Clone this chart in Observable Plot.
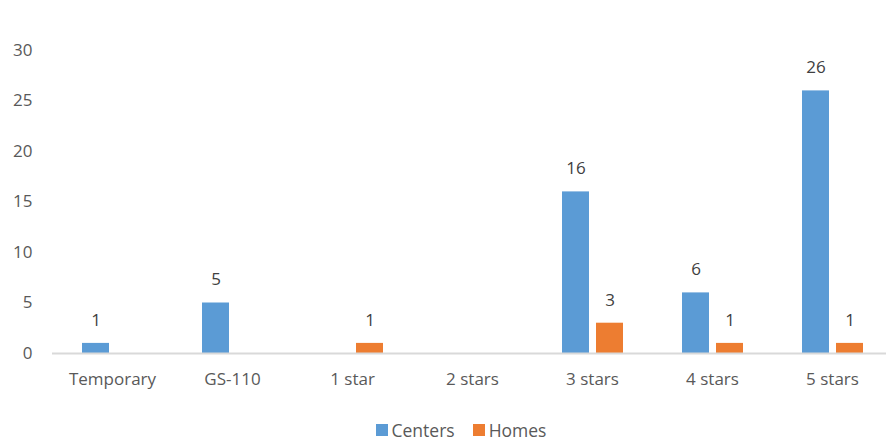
<!DOCTYPE html>
<html>
<head>
<meta charset="utf-8">
<script src="https://cdn.jsdelivr.net/npm/d3@7"></script>
<script src="https://cdn.jsdelivr.net/npm/@observablehq/plot@0.6"></script>
<style>
  body { margin: 0; background: #fff; font-family: "Open Sans", sans-serif; }
  #chart { width: 886px; height: 442px; position: relative; overflow: hidden; }
  #legend { position: absolute; left: 0; top: 418px; width: 886px; display: flex; justify-content: center; gap: 18px; font-size: 17.5px; color: #595959; padding-left: 36px; box-sizing: border-box; }
  #legend span.item { display: flex; align-items: center; gap: 4px; }
  #legend span.sw { width: 12px; height: 12px; display: inline-block; }
</style>
</head>
<body>
<div id="chart"><div id="legend"></div></div>
<script>
const categories = ["Temporary", "GS-110", "1 star", "2 stars", "3 stars", "4 stars", "5 stars"];
const seriesNames = ["Centers", "Homes"];
const centers = [1, 5, 0, 0, 16, 6, 26];
const homes = [0, 0, 1, 0, 3, 1, 1];
const colors = ["#5B9BD5", "#ED7D31"];
const yTicks = [0, 5, 10, 15, 20, 25, 30];

const data = [];
categories.forEach((c, i) => {
  data.push({category: c, series: "Centers", value: centers[i]});
  data.push({category: c, series: "Homes", value: homes[i]});
});
const labeled = data.filter(d => d.value !== 0);

const chart = Plot.plot({
  width: 886,
  height: 400,
  marginLeft: 52,
  marginRight: -5,
  marginTop: 50,
  marginBottom: 47,
  style: {fontFamily: "Open Sans, sans-serif", fontSize: "17px", color: "#595959", background: "transparent"},
  fx: {domain: categories, range: [49.6, 894.6], padding: 0, label: null, tickSize: 0, tickPadding: 19},
  x: {domain: seriesNames, paddingInner: 0.206, paddingOuter: 0.84, axis: null},
  y: {domain: [0, 30], range: [353, 50], ticks: yTicks, tickSize: 0, tickPadding: 20, label: null, tickFormat: d => String(d)},
  color: {domain: seriesNames, range: colors},
  marks: [
    Plot.barY(data, {fx: "category", x: "series", y: "value", fill: "series"}),
    Plot.ruleY([0], {stroke: "#d9d9d9", strokeWidth: 2}),
    Plot.text(labeled, {fx: "category", x: "series", y: "value", text: d => String(d.value), dy: -23, fill: "#404040", fontSize: 17})
  ]
});
document.getElementById("chart").prepend(chart);

const legend = document.getElementById("legend");
seriesNames.forEach((s, i) => {
  const item = document.createElement("span");
  item.className = "item";
  const sw = document.createElement("span");
  sw.className = "sw";
  sw.style.background = colors[i];
  const t = document.createElement("span");
  t.textContent = s;
  item.append(sw, t);
  legend.append(item);
});
</script>
</body>
</html>
